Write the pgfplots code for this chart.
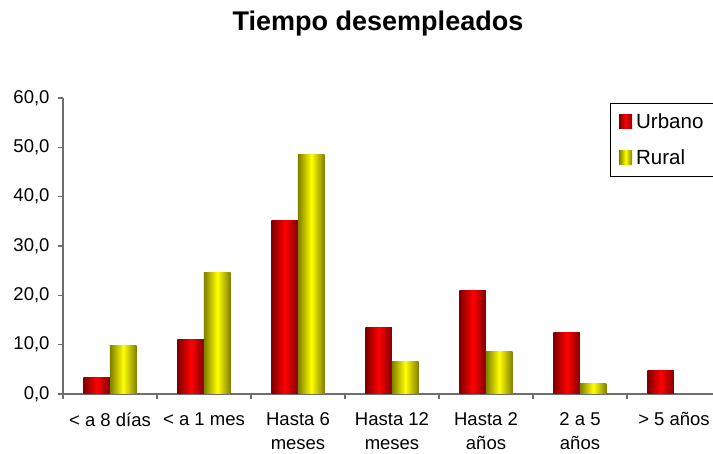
\documentclass[border=0pt]{standalone}
\usepackage{fontspec}
\setmainfont{Liberation Sans}
\usepackage{pgfplots}
\pgfplotsset{compat=1.18}

\definecolor{axisgray}{HTML}{6E6E6E}

\pgfplotstableread{
x  urbano rural
0  3.3    9.8
1  11.0   24.7
2  35.1   48.5
3  13.4   6.5
4  20.9   8.7
5  12.4   2.2
6  4.7    0
}\datos

\tikzset{
  urb/.style={draw=none, left color=red!50!black, right color=red!50!black, middle color=red},
  rur/.style={draw=none, left color=yellow!50!black, right color=yellow!50!black, middle color=yellow},
}

\begin{document}
\begin{tikzpicture}
\useasboundingbox (0,0) rectangle (713bp,454bp);
\begin{axis}[
  at={(63bp,60bp)}, anchor=south west,
  scale only axis,
  width=658bp, height=296bp,
  axis lines=left,
  axis line style={draw=axisgray, line width=1.2bp, -},
  xmin=-0.5, xmax=6.5,
  ymin=0, ymax=60,
  ytick={0,10,...,60},
  xtick={-0.5,0.5,...,6.5},
  xticklabels={},
  extra x ticks={0,1,2,3,4,5,6},
  extra x tick labels={{< a 8 días},{< a 1 mes},{Hasta 6\\meses},{Hasta 12\\meses},{Hasta 2\\años},{2 a 5\\años},{> 5 años}},
  extra x tick style={tick style={draw=none}, xticklabel style={align=center, yshift=-10bp}},
  tick align=outside,
  major tick length=5bp,
  tick style={draw=axisgray, line width=1.2bp},
  tick label style={font=\fontsize{18.5bp}{24bp}\selectfont},
  /pgf/number format/assume math mode=true,
  yticklabel style={xshift=-5bp, /pgf/number format/.cd, fixed, fixed zerofill, precision=1, use comma},
  legend style={at={(axis description cs:0.831,0.983)}, anchor=north west,
    draw=black, line width=0.8bp, font=\fontsize{20.5bp}{24bp}\selectfont,
    inner xsep=9bp, inner ysep=8bp, row sep=16bp,
    nodes={inner xsep=4bp}},
  legend cell align=left,
  legend image code/.code={\path[#1] (0bp,-7bp) rectangle (13bp,7bp);},
]
\addlegendimage{urb}
\addlegendentry{Urbano\hspace*{12bp}}
\addlegendimage{rur}
\addlegendentry{Rural}
\pgfplotsinvokeforeach{0,...,6}{
  \addplot[ybar, bar width=26.5bp, bar shift=-13.25bp, urb, forget plot,
    restrict x to domain=#1:#1] table[x=x, y=urbano] {\datos};
  \addplot[ybar, bar width=26.5bp, bar shift=13.25bp, rur, forget plot,
    restrict x to domain=#1:#1] table[x=x, y=rural] {\datos};
}
\end{axis}
\node[font=\bfseries\fontsize{27bp}{30bp}\selectfont] at (378bp,430bp) {Tiempo desempleados};
\end{tikzpicture}
\end{document}
